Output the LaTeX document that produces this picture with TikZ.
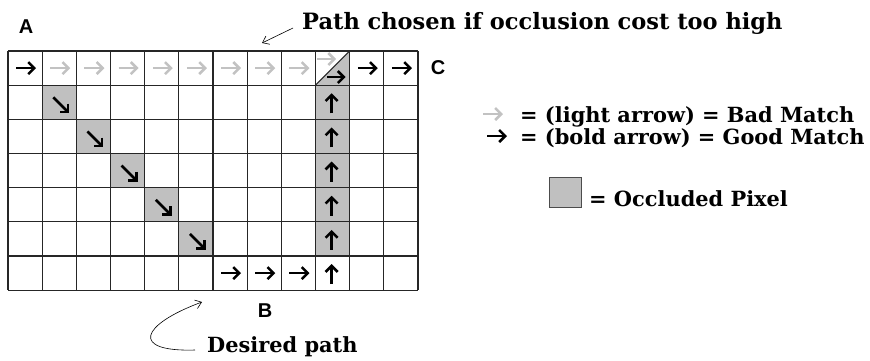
\documentclass[tikz,border=0pt]{standalone}
\usepackage{fontspec}
\setmainfont{DejaVu Serif}
\newfontfamily\labelfont{Liberation Sans}
\usetikzlibrary{arrows.meta}
\definecolor{occfill}{HTML}{C0C0C0}
\definecolor{lightarr}{HTML}{C2C2C2}
\tikzset{
  gridline/.style={draw=black!85, line width=1.1pt},
  occ/.style={fill=occfill},
  cellarrow/.style={line width=2.5pt, -{Straight Barb[length=6pt,width=12pt]}},
  good/.style={cellarrow, draw=black},
  bad/.style={cellarrow, draw=lightarr},
  letter/.style={font=\labelfont\bfseries\fontsize{20}{20}\selectfont, inner sep=0pt},
  caption/.style={font=\bfseries\fontsize{20.9}{20.9}\selectfont, inner sep=0pt, anchor=base west},
  callout/.style={line width=0.6pt, -{Straight Barb[length=6pt,width=9pt,line width=0.6pt]}},
}
\begin{document}
\begin{tikzpicture}[x=1pt,y=-1pt]
\useasboundingbox (0,0) rectangle (870,360);
\def\s{34.17}
% cell centres c-column-row
\foreach \i in {1,...,12}{
  \foreach \j in {1,...,7}{
    \coordinate (c-\i-\j) at ({8+(\i-0.5)*\s},{51+(\j-0.5)*\s});
  }
}
% occluded cells
\foreach \i/\j in {2/2,3/3,4/4,5/5,6/6,10/2,10/3,10/4,10/5,10/6}
  \fill[occ] (c-\i-\j) +(-\s/2,-\s/2) rectangle +(\s/2,\s/2);
\fill[occ] (c-10-1) +(-\s/2,\s/2) -- +(\s/2,-\s/2) -- +(\s/2,\s/2) -- cycle;
% grid
\foreach \i in {0,...,12}
  \draw[gridline] ({8+\i*\s},51) -- ({8+\i*\s},{51+7*\s});
\foreach \j in {0,...,7}
  \draw[gridline] (8,{51+\j*\s}) -- ({8+12*\s},{51+\j*\s});
\draw[gridline] (c-10-1) +(-\s/2,\s/2) -- +(\s/2,-\s/2);
% top row
\draw[good] (c-1-1) +(-9,0) -- +(11,0);
\foreach \i in {2,...,9}
  \draw[bad] (c-\i-1) +(-9,0) -- +(11,0);
\draw[bad] (c-10-1) +(-15.5,-9) -- +(3.5,-9);
\draw[good] (c-10-1) +(-5.5,9) -- +(13,9);
\draw[good] (c-11-1) +(-9,0) -- +(11,0);
\draw[good] (c-12-1) +(-9,0) -- +(11,0);
% diagonal steps
\foreach \i in {2,...,6}
  \draw[good] (c-\i-\i) +(-6,-5) -- +(10,11);
% vertical column
\foreach \j in {2,...,7}
  \draw[good] (c-10-\j) +(-1,11) -- +(-1,-9);
% bottom row
\foreach \i in {7,8,9}
  \draw[good] (c-\i-7) +(-9,0) -- +(11,0);
% corner letters
\node[letter] (A) at (26,27) {A};
\node[letter] (C) at (438,68) {C};
\node[letter] (B) at (265,311) {B};
% callouts
\node[caption, font=\bfseries\fontsize{22.5}{22.5}\selectfont] (hightext) at (302,29) {Path chosen if occlusion cost too high};
\coordinate (hightip) at (262,43);
\draw[callout] (hightext.base west) ++(-9,-1) -- (hightip);
\node[caption] (desired) at (207,352) {Desired path};
\coordinate (desiredtip) at (202,302);
\draw[callout] (desired.base west) ++(-12,-2) .. controls (130,352) and (140,325) .. (desiredtip);
% legend
\draw[bad] (483,114) -- (503,114);
\node[caption] (badtxt) at (520,122) {= (light arrow) = Bad Match};
\draw[good] (487,136) -- (507,136);
\node[caption] (goodtxt) at (520,144) {= (bold arrow) = Good Match};
\node[draw=black!70, line width=1pt, fill=occfill, minimum width=32, minimum height=30, inner sep=0pt] (occsq) at (565,192) {};
\node[caption] (occtxt) at (589,206) {= Occluded Pixel};
\end{tikzpicture}
\end{document}
